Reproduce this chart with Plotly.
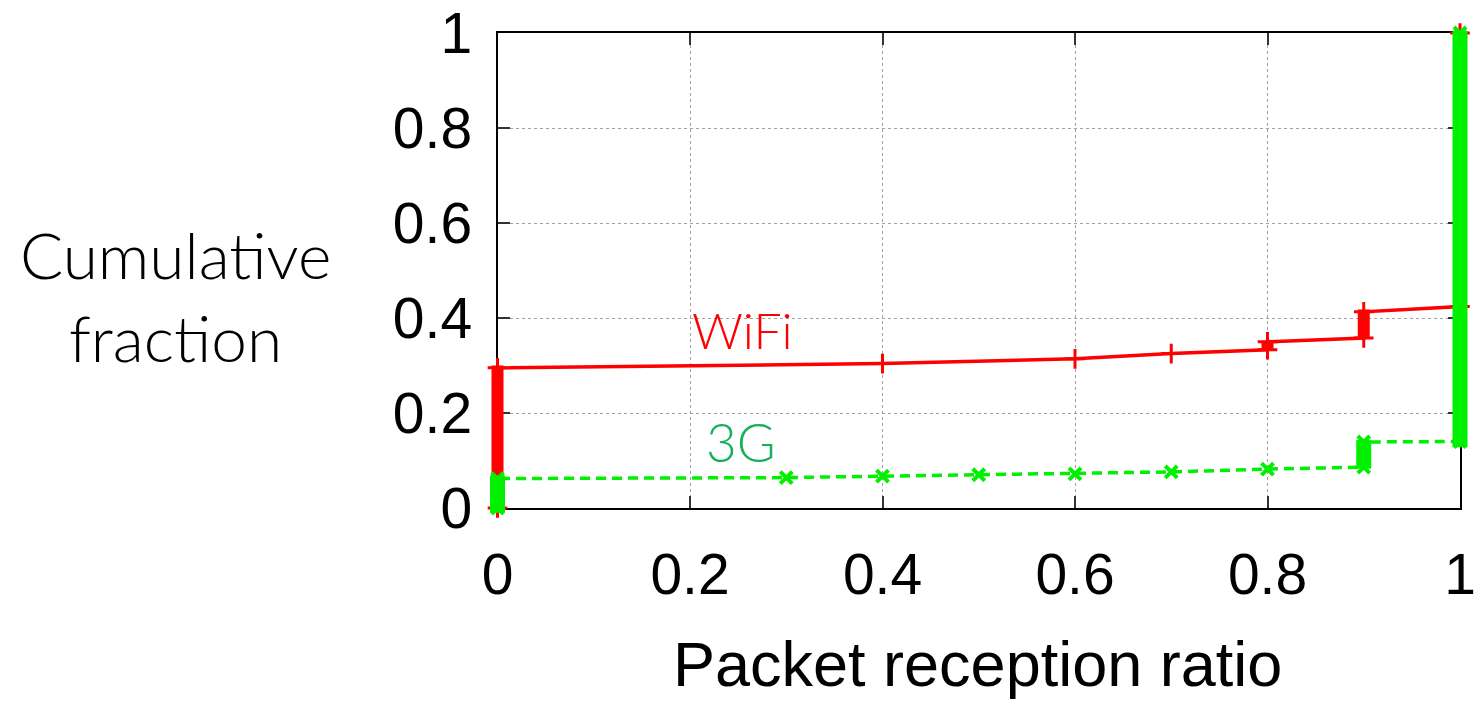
import plotly.graph_objects as go

# ---- data ----
wifi_x = [0.0, 0.0, 0.4, 0.6, 0.7, 0.8, 0.8, 0.9, 0.9, 1.0, 1.0]
wifi_y = [0.0, 0.295, 0.304, 0.314, 0.325, 0.333, 0.350, 0.358, 0.413, 0.424, 1.0]

g3_x = [0.0, 0.0, 0.3, 0.4, 0.5, 0.6, 0.7, 0.8, 0.9, 0.9, 1.0, 1.0]
g3_y = [0.0, 0.062, 0.064, 0.067, 0.070, 0.072, 0.076, 0.082, 0.086, 0.139, 0.140, 1.0]

# dense clusters of markers (x, low y, high y)
wifi_cluster_x = [0.0, 0.8, 0.9, 1.0]
wifi_cluster_lo = [0.0, 0.331, 0.356, 0.424]
wifi_cluster_hi = [0.300, 0.352, 0.418, 1.005]

g3_cluster_x = [0.0, 0.9, 1.0]
g3_cluster_lo = [-0.01, 0.083, 0.128]
g3_cluster_hi = [0.068, 0.143, 1.005]

x_ticks = [0, 0.2, 0.4, 0.6, 0.8, 1]
x_tick_text = ["0", "0.2", "0.4", "0.6", "0.8", "1"]
y_ticks = [0, 0.2, 0.4, 0.6, 0.8, 1]
y_tick_text = ["0", "0.2", "0.4", "0.6", "0.8", "1"]

RED = "#ff0000"
GREEN = "#00f000"

# ---- layout geometry (pixels) ----
W, H = 1482, 702
PL, PR, PT, PB = 480, 1477, 20, 520          # paper (drawing) area
FL, FR, FT, FB = 497.5, 1460, 33, 508         # framed axes area
pw, ph = PR - PL, PB - PT

fx_dom = [(FL - PL) / pw, (FR - PL) / pw]
fy_dom = [(PB - FB) / ph, (PB - FT) / ph]
x2_range = [(PL - FL) / (FR - FL), (PR - FL) / (FR - FL)]
y2_range = [(FB - PB) / (FB - FT), (FB - PT) / (FB - FT)]

fig = go.Figure()

def add(tr):
    tr.update(xaxis="x2", yaxis="y2", cliponaxis=False, showlegend=False)
    fig.add_trace(tr)

for cx, lo, hi in zip(wifi_cluster_x, wifi_cluster_lo, wifi_cluster_hi):
    add(go.Scatter(x=[cx, cx], y=[lo, hi], mode="lines",
                   line=dict(color=RED, width=12), hoverinfo="skip"))
add(go.Scatter(x=wifi_x, y=wifi_y, mode="lines+markers", name="WiFi",
               line=dict(color=RED, width=3.5),
               marker=dict(symbol="cross-thin", size=14,
                           line=dict(color=RED, width=3))))

for cx, lo, hi in zip(g3_cluster_x, g3_cluster_lo, g3_cluster_hi):
    add(go.Scatter(x=[cx, cx], y=[lo, hi], mode="lines",
                   line=dict(color=GREEN, width=15), hoverinfo="skip"))
add(go.Scatter(x=g3_x, y=g3_y, mode="lines+markers", name="3G",
               line=dict(color=GREEN, width=3.5, dash="10px,6px"),
               marker=dict(symbol="x-thin", size=12,
                           line=dict(color=GREEN, width=4))))

axis_common = dict(
    range=[0, 1], automargin=False,
    showline=True, linecolor="black", linewidth=2, mirror="allticks",
    ticks="inside", ticklen=12, tickwidth=2, tickcolor="#333",
    showgrid=True, gridcolor="#a0a0a0", gridwidth=1, griddash="dot",
    zeroline=False,
    tickfont=dict(family="Liberation Sans, Arial, sans-serif", size=57, color="black"),
)

fig.update_layout(
    xaxis=dict(**axis_common, domain=fx_dom, anchor="y",
               tickvals=x_ticks, ticktext=x_tick_text, ticklabelstandoff=16),
    yaxis=dict(**axis_common, domain=fy_dom, anchor="x",
               tickvals=y_ticks, ticktext=y_tick_text, ticklabelstandoff=12),
    xaxis2=dict(domain=[0, 1], range=x2_range, anchor="y2", visible=False,
                automargin=False),
    yaxis2=dict(domain=[0, 1], range=y2_range, anchor="x2", visible=False,
                automargin=False),
)

fig.add_annotation(text="WiFi", x=0.2, y=0.375, xref="x", yref="y",
                   showarrow=False, xanchor="left", yanchor="middle",
                   font=dict(family="Lato", size=50, color=RED, weight=300))
fig.add_annotation(text="3G", x=0.215, y=0.141, xref="x", yref="y",
                   showarrow=False, xanchor="left", yanchor="middle",
                   font=dict(family="Lato", size=53, color="#16b05a", weight=300))

fig.add_annotation(text="Cumulative<br>fraction", x=(175 - PL) / pw, y=(PB - 296) / ph,
                   xref="paper", yref="paper", showarrow=False,
                   xanchor="center", yanchor="middle", align="center",
                   font=dict(family="Lato", size=64, color="black", weight=300))
fig.add_annotation(text="Packet reception ratio", x=(977 - PL) / pw, y=(PB - 664) / ph,
                   xref="paper", yref="paper", showarrow=False,
                   xanchor="center", yanchor="middle",
                   font=dict(family="Liberation Sans, Arial, sans-serif", size=63, color="black"))

fig.update_layout(
    width=W, height=H,
    margin=dict(l=PL, r=W - PR, t=PT, b=H - PB, autoexpand=False),
    paper_bgcolor="white", plot_bgcolor="rgba(0,0,0,0)",
    showlegend=False,
)

fig.write_html("out.html")
